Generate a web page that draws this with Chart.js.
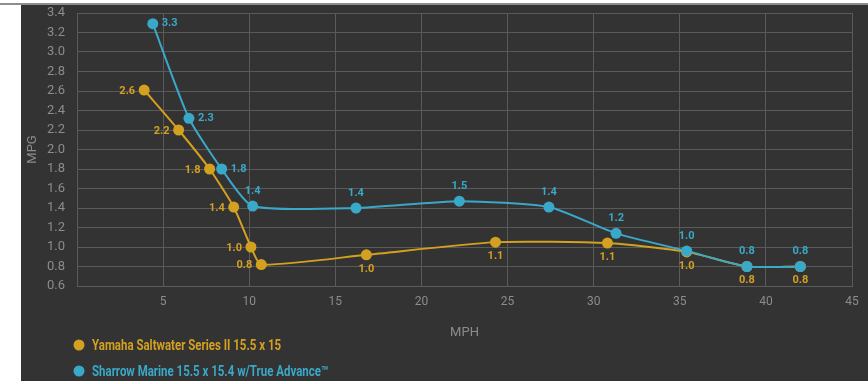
<!DOCTYPE html>
<html><head><meta charset="utf-8">
<script src="https://cdn.jsdelivr.net/npm/chart.js@4.4.0/dist/chart.umd.min.js"></script>
<style>
html,body{margin:0;padding:0;background:#ffffff;width:868px;height:384px;overflow:hidden;position:relative;}
#topline{position:absolute;left:0;top:3px;width:868px;height:2px;background:#8e8e8e;}
#panel{position:absolute;left:21px;top:5px;width:847px;height:376px;background:#333333;}
canvas{position:absolute;left:0;top:0;}
</style></head><body>
<div id="topline"></div>
<div id="panel"><canvas id="c" width="847" height="376" style="width:847px;height:376px"></canvas></div>
<script>
// ---- data ----
const yamahaName = 'Yamaha Saltwater Series II 15.5 x 15';
const sharrowName = 'Sharrow Marine 15.5 x 15.4 w/True Advance\u2122';
const yamahaMph = [3.9, 5.9, 7.7, 9.1, 10.1, 10.7, 16.8, 24.3, 30.8, 35.4, 38.9, 42.0];
const yamahaMpg = [2.61, 2.2, 1.8, 1.41, 1.0, 0.82, 0.92, 1.05, 1.04, 0.95, 0.8, 0.8];
const yamahaText = ['2.6','2.2','1.8','1.4','1.0','0.8','1.0','1.1','1.1','1.0','0.8','0.8'];
const sharrowMph = [4.4, 6.5, 8.4, 10.2, 16.2, 22.2, 27.4, 31.3, 35.4, 38.9, 42.0];
const sharrowMpg = [3.29, 2.32, 1.8, 1.42, 1.40, 1.47, 1.41, 1.14, 0.96, 0.8, 0.8];
const sharrowText = ['3.3','2.3','1.8','1.4','1.4','1.5','1.4','1.2','1.0','0.8','0.8'];
const xTicksMin = 0, xTicksMax = 45, xStep = 5;
const yTicksMin = 0.6, yTicksMax = 3.4, yStep = 0.2;

// ---- styling (kept separate from data) ----
const ORANGE = '#d4a020';
const BLUE = '#3aa8c8';
const GRID = '#5a5a5a';
const TICK = '#8c8c8c';
const yamahaPlace = ['L','L','L','L','L','L','B','B','B','B','B','B'];
const sharrowPlace = ['R','R','R','A','A','A','A','A','A','A','A'];

const pts = (xs, ys) => xs.map((x, i) => ({x: x, y: ys[i]}));

const labelPlugin = {
  id: 'pointLabels',
  afterDatasetsDraw(chart) {
    const ctx = chart.ctx;
    chart.data.datasets.forEach((ds, di) => {
      const meta = chart.getDatasetMeta(di);
      meta.data.forEach((pt, i) => {
        let x = pt.x, y = pt.y;
        const p = ds.place[i];
        ctx.save();
        ctx.font = 'bold 11px Roboto';
        ctx.fillStyle = ds.borderColor;
        ctx.textBaseline = 'middle';
        if (p === 'L') { ctx.textAlign = 'right'; x -= 9; y += 1; }
        else if (p === 'R') { ctx.textAlign = 'left'; x += 9; }
        else if (p === 'A') { ctx.textAlign = 'center'; y -= 15; }
        else { ctx.textAlign = 'center'; y += 14; }
        ctx.fillText(ds.texts[i], x, y);
        ctx.restore();
      });
    });
  }
};

const legendPlugin = {
  id: 'stackLegend',
  afterDraw(chart) {
    const ctx = chart.ctx;
    const left = chart.chartArea.left;
    chart.data.datasets.forEach((ds, i) => {
      const cy = 340 + i * 26;
      ctx.save();
      ctx.fillStyle = ds.borderColor;
      ctx.beginPath();
      ctx.arc(left + 2, cy, 5.5, 0, Math.PI * 2);
      ctx.fill();
      ctx.font = 'bold 14px Roboto, sans-serif';
      ctx.textBaseline = 'middle';
      ctx.textAlign = 'left';
      ctx.translate(left + 15, cy + 1);
      ctx.scale(0.82, 1);
      ctx.fillText(ds.label, 0, 0);
      ctx.restore();
    });
  }
};

new Chart(document.getElementById('c'), {
  type: 'line',
  data: {
    datasets: [
      { label: yamahaName, data: pts(yamahaMph, yamahaMpg), texts: yamahaText, place: yamahaPlace,
        borderColor: ORANGE, backgroundColor: ORANGE, pointBackgroundColor: ORANGE,
        borderWidth: 2, pointRadius: 5.5, pointBorderWidth: 0, tension: 0.2, order: 1 },
      { label: sharrowName, data: pts(sharrowMph, sharrowMpg), texts: sharrowText, place: sharrowPlace,
        borderColor: BLUE, backgroundColor: BLUE, pointBackgroundColor: BLUE,
        borderWidth: 2, pointRadius: 5.5, pointBorderWidth: 0, tension: 0.2, order: 0 }
    ]
  },
  options: {
    responsive: false,
    animation: false,
    devicePixelRatio: 1,
    layout: { padding: { left: 0, right: 16, top: 0, bottom: 0 } },
    plugins: { legend: { display: false }, tooltip: { enabled: false } },
    scales: {
      x: {
        type: 'linear', min: xTicksMin, max: xTicksMax,
        ticks: { stepSize: xStep, color: TICK, font: { family: 'Roboto', size: 12 }, padding: 9, maxRotation: 0,
                 callback: v => v === 0 ? '' : String(v) },
        grid: { color: GRID, lineWidth: 1, drawTicks: false },
        border: { color: GRID },
        title: { display: true, text: 'MPH', color: TICK, font: { family: 'Roboto', size: 13 }, padding: { top: 0, bottom: 40 } },
        afterFit(s) { s.height = 95; }
      },
      y: {
        min: yTicksMin, max: yTicksMax,
        ticks: { stepSize: yStep, color: TICK, font: { family: 'Roboto', size: 13 }, padding: 12,
                 callback: v => Number(v).toFixed(1) },
        grid: { color: GRID, lineWidth: 1, drawTicks: false },
        border: { color: GRID },
        title: { display: true, text: 'MPG', color: TICK, font: { family: 'Roboto', size: 13 }, padding: { top: 4, bottom: 0 } },
        afterFit(s) { s.width = 56; s.paddingTop = 8; s.paddingBottom = 8; }
      }
    }
  },
  plugins: [labelPlugin, legendPlugin]
});
</script>
</body></html>
